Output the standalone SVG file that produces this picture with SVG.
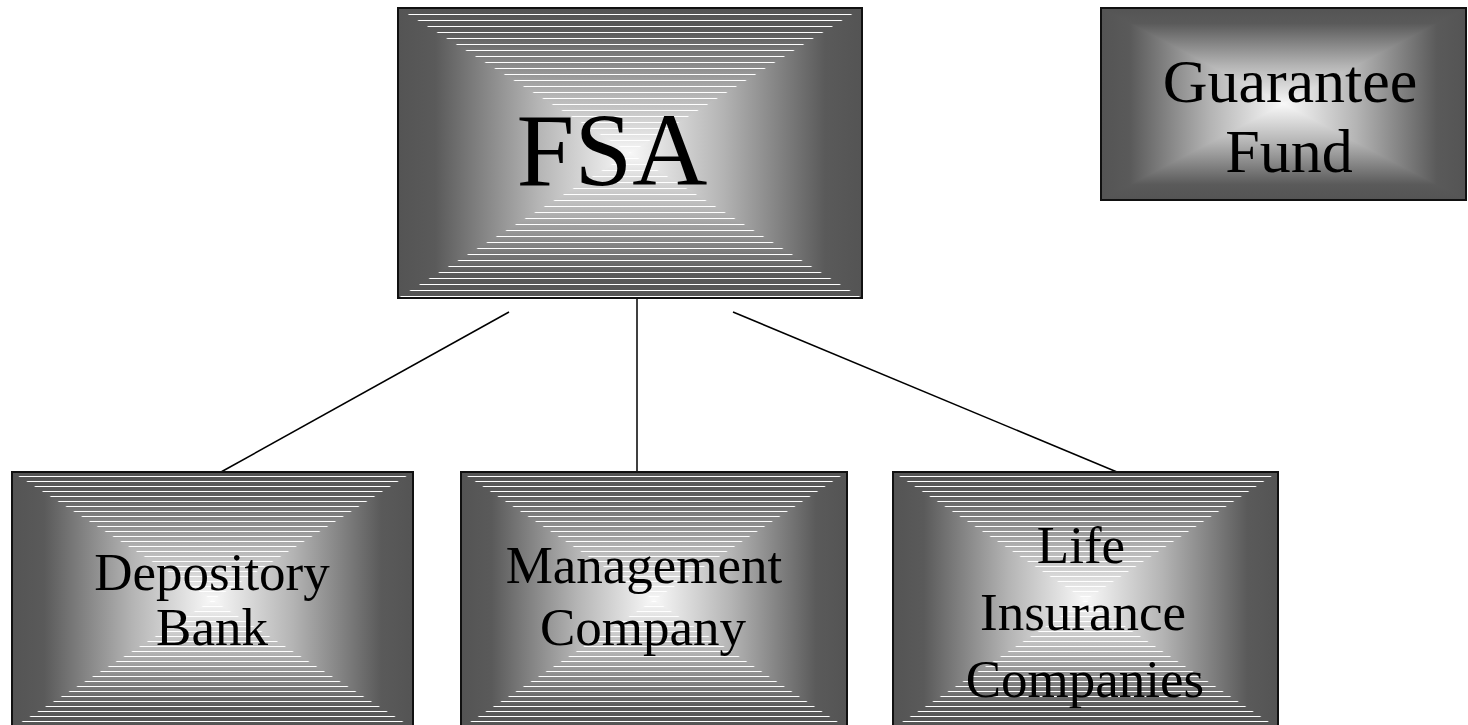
<svg xmlns="http://www.w3.org/2000/svg" width="1468" height="725" viewBox="0 0 1468 725">
  <style>
    .label { font-family: "Liberation Serif", "Times New Roman", serif; fill: #000; text-anchor: middle; }
    .frame { fill: none; stroke: #111; stroke-width: 2; }
    .edge { stroke: #000; stroke-width: 1.5; fill: none; }
  </style>
  <defs>
    <!-- horizontal ramp: dark sides, bright middle -->
    <linearGradient id="gH" x1="0" y1="0" x2="1" y2="0">
      <stop offset="0" stop-color="#545454"/>
      <stop offset="0.08" stop-color="#5a5a5a"/>
      <stop offset="0.3" stop-color="#b4b4b4"/>
      <stop offset="0.5" stop-color="#f8f8f8"/>
      <stop offset="0.7" stop-color="#b4b4b4"/>
      <stop offset="0.92" stop-color="#5a5a5a"/>
      <stop offset="1" stop-color="#545454"/>
    </linearGradient>
    <!-- vertical ramps for the top / bottom wedges -->
    <linearGradient id="gTop" x1="0" y1="0" x2="0" y2="1">
      <stop offset="0" stop-color="#545454"/>
      <stop offset="0.16" stop-color="#5a5a5a"/>
      <stop offset="0.6" stop-color="#b4b4b4"/>
      <stop offset="1" stop-color="#f8f8f8"/>
    </linearGradient>
    <linearGradient id="gBot" x1="0" y1="1" x2="0" y2="0">
      <stop offset="0" stop-color="#545454"/>
      <stop offset="0.16" stop-color="#5a5a5a"/>
      <stop offset="0.6" stop-color="#b4b4b4"/>
      <stop offset="1" stop-color="#f8f8f8"/>
    </linearGradient>
    <!-- white hatch lines in the top / bottom wedges -->
    <pattern id="hatch6" patternUnits="userSpaceOnUse" x="0" y="2" width="10" height="6">
      <rect x="0" y="0" width="10" height="1" fill="#fff"/>
    </pattern>
    <pattern id="hatch5" patternUnits="userSpaceOnUse" x="0" y="1" width="10" height="5">
      <rect x="0" y="0" width="10" height="1" fill="#fff"/>
    </pattern>
  </defs>

  <!-- connectors -->
  <g id="connectors">
    <line class="edge" x1="509" y1="312" x2="221" y2="472"/>
    <line class="edge" x1="637" y1="298" x2="637" y2="472"/>
    <line class="edge" x1="733" y1="312" x2="1117" y2="472"/>
  </g>

  <!-- FSA: x 398..862, y 8..298, centre (630,153) -->
  <g id="fsa">
    <rect x="398" y="8" width="464" height="290" fill="url(#gH)"/>
    <polygon points="398,8 862,8 630,153" fill="url(#gTop)"/>
    <polygon points="398,298 862,298 630,153" fill="url(#gBot)"/>
    <polygon points="398,8 862,8 630,153" fill="url(#hatch6)"/>
    <polygon points="398,298 862,298 630,153" fill="url(#hatch6)"/>
    <rect class="frame" x="398" y="8" width="464" height="290"/>
    <text class="label" x="612" y="185" font-size="104">FSA</text>
  </g>

  <!-- Guarantee Fund: x 1101..1466, y 8..200, centre (1283.5,104) -->
  <g id="guarantee-fund">
    <rect x="1101" y="8" width="365" height="192" fill="url(#gH)"/>
    <polygon points="1101,8 1466,8 1283.5,104" fill="url(#gTop)"/>
    <polygon points="1101,200 1466,200 1283.5,104" fill="url(#gBot)"/>
    <rect class="frame" x="1101" y="8" width="365" height="192"/>
    <text class="label" x="1290" y="102" font-size="62">Guarantee</text>
    <text class="label" x="1289" y="172" font-size="62">Fund</text>
  </g>

  <!-- Depository Bank: x 12..413, y 472..728, centre (212.5,600) -->
  <g id="depository-bank">
    <rect x="12" y="472" width="401" height="256" fill="url(#gH)"/>
    <polygon points="12,472 413,472 212.5,600" fill="url(#gTop)"/>
    <polygon points="12,728 413,728 212.5,600" fill="url(#gBot)"/>
    <polygon points="12,472 413,472 212.5,600" fill="url(#hatch5)"/>
    <polygon points="12,728 413,728 212.5,600" fill="url(#hatch5)"/>
    <rect class="frame" x="12" y="472" width="401" height="256"/>
    <text class="label" x="212" y="590" font-size="53">Depository</text>
    <text class="label" x="212" y="645" font-size="53">Bank</text>
  </g>

  <!-- Management Company: x 461..847, y 472..728, centre (654,600) -->
  <g id="management-company">
    <rect x="461" y="472" width="386" height="256" fill="url(#gH)"/>
    <polygon points="461,472 847,472 654,600" fill="url(#gTop)"/>
    <polygon points="461,728 847,728 654,600" fill="url(#gBot)"/>
    <polygon points="461,472 847,472 654,600" fill="url(#hatch5)"/>
    <polygon points="461,728 847,728 654,600" fill="url(#hatch5)"/>
    <rect class="frame" x="461" y="472" width="386" height="256"/>
    <text class="label" x="644" y="583" font-size="53">Management</text>
    <text class="label" x="643" y="645" font-size="53">Company</text>
  </g>

  <!-- Life Insurance Companies: x 893..1278, y 472..728, centre (1085.5,600) -->
  <g id="life-insurance-companies">
    <rect x="893" y="472" width="385" height="256" fill="url(#gH)"/>
    <polygon points="893,472 1278,472 1085.5,600" fill="url(#gTop)"/>
    <polygon points="893,728 1278,728 1085.5,600" fill="url(#gBot)"/>
    <polygon points="893,472 1278,472 1085.5,600" fill="url(#hatch5)"/>
    <polygon points="893,728 1278,728 1085.5,600" fill="url(#hatch5)"/>
    <rect class="frame" x="893" y="472" width="385" height="256"/>
    <text class="label" x="1081" y="563" font-size="53">Life</text>
    <text class="label" x="1083" y="630" font-size="53">Insurance</text>
    <text class="label" x="1085" y="697" font-size="53">Companies</text>
  </g>
</svg>
